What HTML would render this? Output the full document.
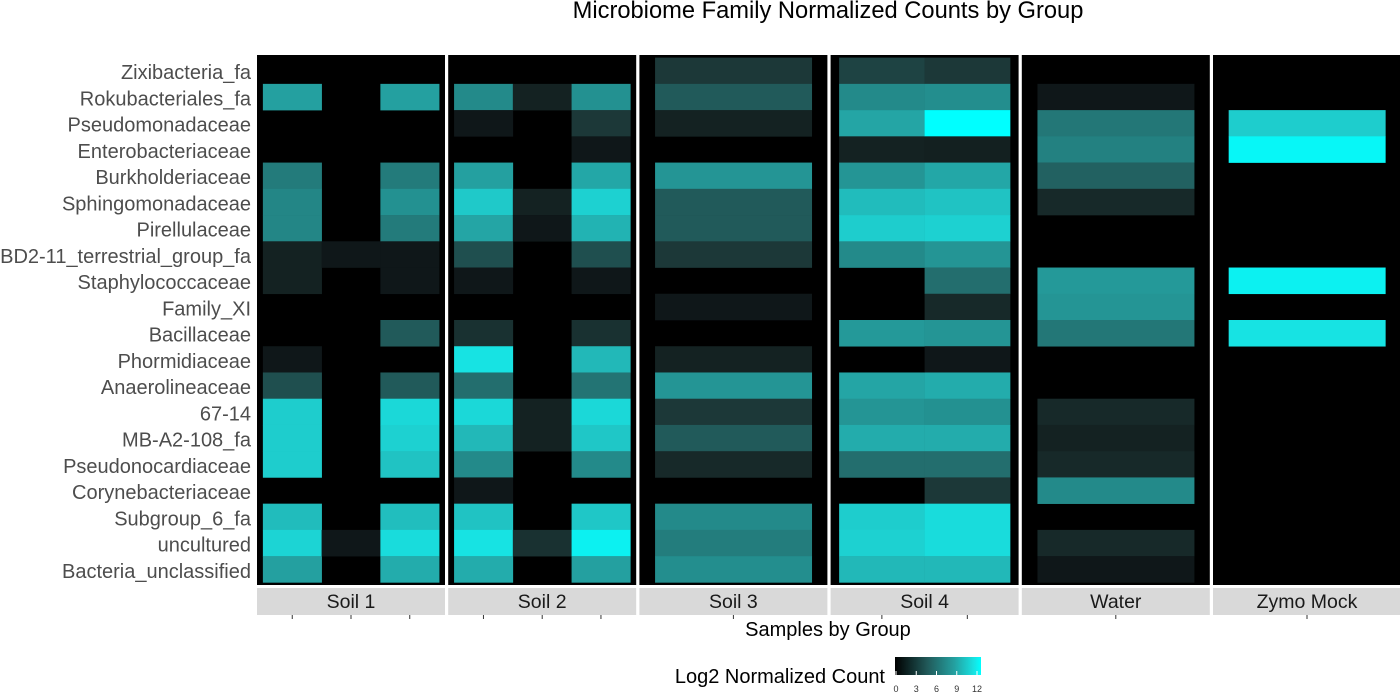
<!DOCTYPE html>
<html><head><meta charset="utf-8"><style>
html,body{margin:0;padding:0;background:#fff;width:1400px;height:700px;overflow:hidden}
svg text{font-family:"Liberation Sans",sans-serif}
</style></head><body>
<svg id="chart" width="1400" height="700" xmlns="http://www.w3.org/2000/svg">
<defs><linearGradient id="lg" x1="0" x2="1" y1="0" y2="0">
<stop offset="0" stop-color="#000"/><stop offset="0.38" stop-color="#215a5a"/><stop offset="0.69" stop-color="#24a0a0"/><stop offset="0.92" stop-color="#17e3e3"/><stop offset="1" stop-color="#00ffff"/></linearGradient></defs>
<text x="828" y="18" text-anchor="middle" font-size="23.7" fill="#000">Microbiome Family Normalized Counts by Group</text>
<g id="panels"></g>
<text x="828" y="636" text-anchor="middle" font-size="20" fill="#000">Samples by Group</text>
<g>
<text x="885" y="683" text-anchor="end" font-size="20" fill="#000">Log2 Normalized Count</text>
<rect x="895" y="657" width="86" height="18" fill="url(#lg)"/>
<g id="legticks"></g>
</g>
</svg>
<script>
const families=["Zixibacteria_fa","Rokubacteriales_fa","Pseudomonadaceae","Enterobacteriaceae","Burkholderiaceae","Sphingomonadaceae","Pirellulaceae","BD2-11_terrestrial_group_fa","Staphylococcaceae","Family_XI","Bacillaceae","Phormidiaceae","Anaerolineaceae","67-14","MB-A2-108_fa","Pseudonocardiaceae","Corynebacteriaceae","Subgroup_6_fa","uncultured","Bacteria_unclassified"];
const groups=["Soil 1","Soil 2","Soil 3","Soil 4","Water","Zymo Mock"];
const soil1=[
[0,9,0,0,7.2,7.8,7.8,2,2,0,0,1,4.5,11,11,11,0,10.2,11.3,9],
[0,0,0,0,0,0,0,1,0,0,0,0,0,0,0,0,0,0,1,0],
[0,9,0,0,7.2,8.3,7.2,1,1,0,5,0,5,11.5,11.2,10.5,0,10.3,11.7,9.5]];
const soil2=[
[0,8,1,0,9,10.8,9.2,4.5,1,0,3,12,6.5,11.5,10,8,1,10.5,12,9.5],
[0,2,0,0,0,2,1,0,0,0,0,0,0,2,2,0,0,0,3,0],
[0,8.3,3.5,1,9.3,11.2,9.8,4.5,1,0,3,10,6.8,11.5,10.7,8,0,10.7,12.5,9]];
const soil3=[[3.5,5,2,0,8.5,5,5,3.5,0,1,0,2,8.5,3.5,5,2.5,0,8,7.3,8.2]];
const soil4=[
[4,8,9.2,2,8.5,10.2,11,8,0,0,8.7,0,9.2,8.5,9.5,6.5,0,11,11.2,10],
[3.5,8.2,13,1.8,9.3,10.5,11.2,8.5,6.5,2.5,8.5,1,9.5,8.3,9.5,6.5,3.5,11.7,11.7,10]];
const water=[[0,1,7,7.5,5.5,2.5,0,0,8.7,8.5,7,0,0,2.5,2,2.5,8,0,2.5,1]];
const zymo=[[0,0,11,12.7,0,0,0,0,12.5,0,12,0,0,0,0,0,0,0,0,0]];
const groupData=[soil1,soil2,soil3,soil4,water,zymo];
const legendTicks=[0,3,6,9,12];

const stops=[[0,[0,0,0]],[1,[15,23,25]],[2,[20,34,34]],[3.5,[28,56,56]],[5,[33,90,90]],[6.5,[35,110,110]],[8,[35,138,138]],[9,[36,160,160]],[10,[34,184,184]],[11,[30,205,205]],[12,[23,227,227]],[13,[0,255,255]]];
function col(v){v=Math.min(13,v);for(let i=1;i<stops.length;i++){if(v<=stops[i][0]){const a=stops[i-1],b=stops[i],t=(v-a[0])/(b[0]-a[0]);const c=a[1].map((x,k)=>Math.round(x+(b[1][k]-x)*t));return `rgb(${c})`;}}return "rgb(0,255,255)";}
const NS="http://www.w3.org/2000/svg";
function mk(t,a,p){const e=document.createElementNS(NS,t);for(const k in a)e.setAttribute(k,a[k]);p.appendChild(e);return e;}
const svg=document.getElementById('panels');
const top0=55,bot=585,left0=257,pw=188,gap=3.2;
const nR=families.length,uy=(bot-top0)/(nR+0.2);
function yOf(i){return top0+(0.1+i)*uy;}
families.forEach((f,i)=>{const t=mk('text',{x:251,y:yOf(i)+uy/2+8.5,'text-anchor':'end','font-size':20,fill:'#4d4d4d'},svg);


t.textContent=f;});
groups.forEach((g,gi)=>{
 const x0=left0+gi*(pw+gap);const data=groupData[gi];const n=data.length;const ux=pw/(n+0.2);
 const bg=mk('rect',{x:x0,y:top0,width:pw,height:bot-top0,fill:'#000'},svg);
 
 
 data.forEach((s,si)=>{
  s.forEach((v,ri)=>{if(v<=0)return;
   const r=mk('rect',{x:x0+(0.1+si)*ux,y:yOf(ri),width:ux+0.3,height:uy+0.3,fill:col(v)},svg);
   
   
  });
  const tk=mk('line',{x1:x0+(0.6+si)*ux,x2:x0+(0.6+si)*ux,y1:615,y2:619,stroke:'#333','stroke-width':1},svg);
  
  
 });
 const st=mk('rect',{x:x0,y:588,width:pw,height:27,fill:'#d9d9d9'},svg);
 
 
 const tx=mk('text',{x:x0+pw/2,y:608,'text-anchor':'middle','font-size':19.5,fill:'#1a1a1a'},svg);
 
 
 tx.textContent=g;
});
const lt=document.getElementById('legticks');
legendTicks.forEach(v=>{const x=896+v*(81/12);
 const l=mk('line',{x1:x,x2:x,y1:671,y2:675,stroke:'#fff','stroke-width':1},lt);
 
 
 const t=mk('text',{x:x,y:692,'text-anchor':'middle','font-size':9,fill:'#333'},lt);
 
 
 t.textContent=v;});
</script>
</body></html>
